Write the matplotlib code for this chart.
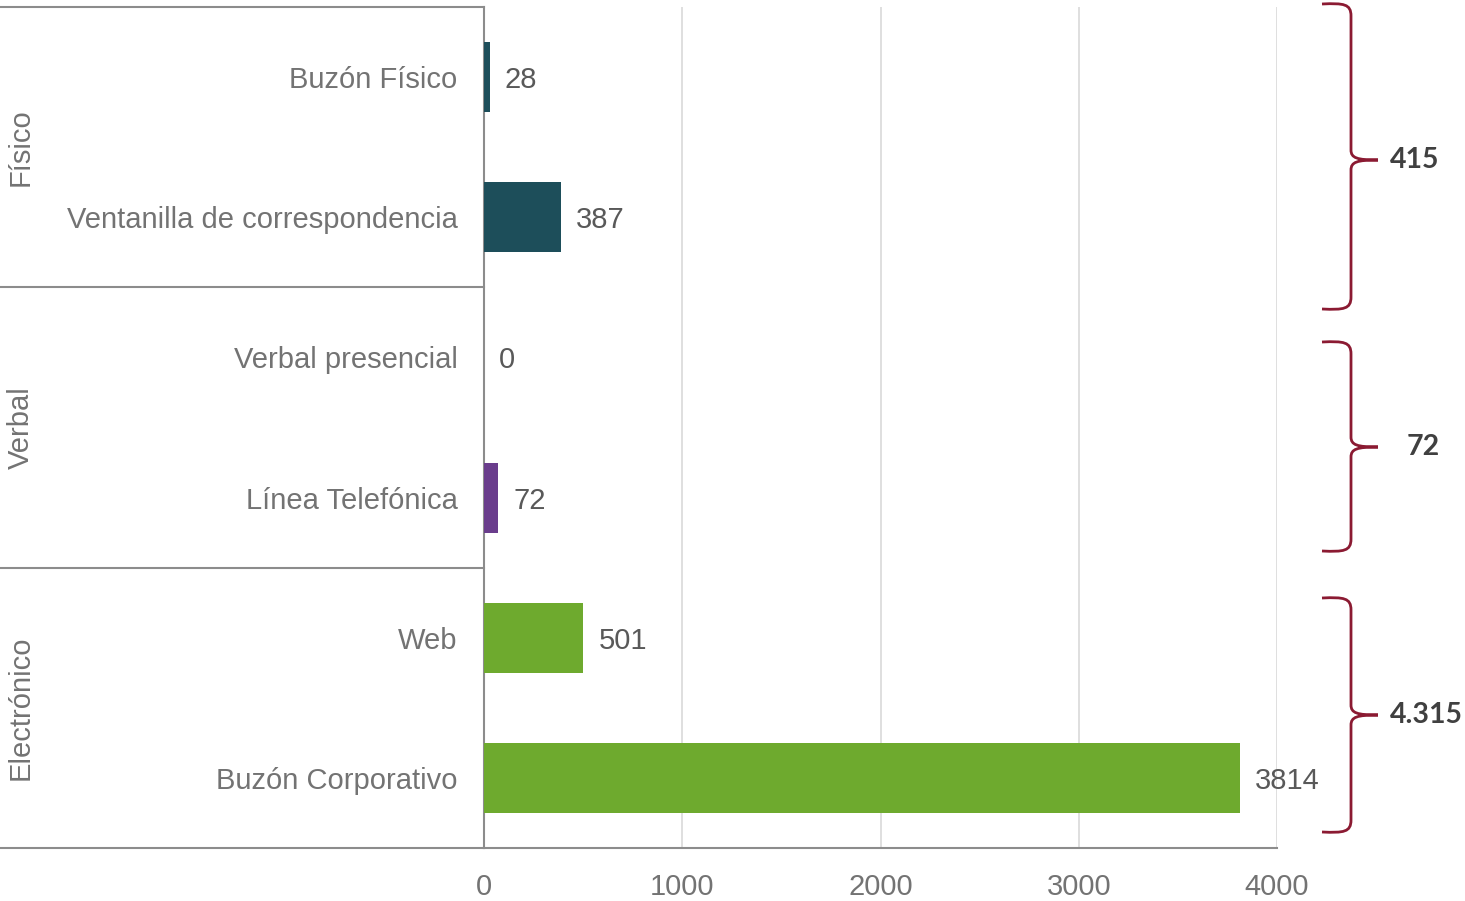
import matplotlib.pyplot as plt
from matplotlib.path import Path
from matplotlib.patches import PathPatch
from matplotlib.lines import Line2D
import numpy as np

# ------------------------------------------------------------------------
# datos
canales = ['Buzón Físico', 'Ventanilla de correspondencia', 'Verbal presencial',
           'Línea Telefónica', 'Web', 'Buzón Corporativo']
valores = [28, 387, 0, 72, 501, 3814]
grupos = ['Físico', 'Verbal', 'Electrónico']
totales = ['415', '72', '4.315']
colores_grupo = ['#1d4e5a', '#6a3d8c', '#6eaa2e']
colores = [colores_grupo[i // 2] for i in range(len(canales))]
x_ticks = [0, 1000, 2000, 3000, 4000]

W, H = 1465, 901
GRIS = '#737373'
plt.rcParams['font.family'] = ['Liberation Sans', 'DejaVu Sans']

fig = plt.figure(figsize=(W / 100, H / 100), dpi=100)
ax = fig.add_axes([484 / W, 1 - 848 / H, (1277 - 484) / W, (848 - 7) / H])

y = np.arange(len(canales))
ax.barh(y, valores, height=0.5, color=colores, zorder=3)
ax.set_ylim(len(canales) - 0.5, -0.5)
ax.set_xlim(0, 4000)

for yi, v in zip(y, valores):
    ax.text(v + 4000 * 15 / 793, yi, str(v), va='center_baseline', ha='left',
            fontsize=21, color='#595959')

ax.set_yticks(y)
ax.set_yticklabels(canales, fontsize=21, color=GRIS)
ax.set_xticks(x_ticks)
ax.set_xticklabels([str(t) for t in x_ticks], fontsize=21, color=GRIS)
ax.tick_params(axis='y', length=0, pad=19)
ax.tick_params(axis='x', length=0, pad=18)
ax.grid(axis='x', color='#d9d9d9', linewidth=1.2, zorder=0)

for s in ['top', 'right']:
    ax.spines[s].set_visible(False)
ax.spines['left'].set_color('#8c8c8c')
ax.spines['left'].set_linewidth(1.5)
ax.spines['bottom'].set_color('#8c8c8c')
ax.spines['bottom'].set_linewidth(1.5)

# separadores de grupo y etiquetas de grupo
x_izq = -484 / 793
for k in range(len(grupos) + 1):
    yb = -0.5 + 2 * k
    ax.add_line(Line2D([x_izq, 0], [yb, yb], transform=ax.get_yaxis_transform(),
                       color='#8c8c8c', linewidth=1.5, clip_on=False))
for k, g in enumerate(grupos):
    ax.text(-463 / 793, 2 * k + 0.5, g, transform=ax.get_yaxis_transform(),
            rotation=90, va='center', ha='center', fontsize=21, color=GRIS)

# llaves con totales
ov = fig.add_axes([0, 0, 1, 1], facecolor='none')
ov.set_xlim(0, W)
ov.set_ylim(H, 0)
ov.axis('off')


def llave(y_top, y_mid, y_bot, x0=1322, xl=1351, xt=1378):
    verts = [(x0, y_top), (x0 + 22, y_top - 1), (xl, y_top), (xl, y_top + 12),
             (xl, y_mid - 10),
             (xl, y_mid - 2), (xl + 6, y_mid), (xt, y_mid),
             (xt, y_mid), (xl + 6, y_mid), (xl, y_mid + 2), (xl, y_mid + 10),
             (xl, y_bot - 12),
             (xl, y_bot), (x0 + 22, y_bot + 1), (x0, y_bot)]
    codes = [Path.MOVETO, Path.CURVE4, Path.CURVE4, Path.CURVE4,
             Path.LINETO,
             Path.CURVE4, Path.CURVE4, Path.CURVE4,
             Path.MOVETO, Path.CURVE4, Path.CURVE4, Path.CURVE4,
             Path.LINETO,
             Path.CURVE4, Path.CURVE4, Path.CURVE4]
    ov.add_patch(PathPatch(Path(verts, codes), facecolor='none',
                           edgecolor='#8b1a32', linewidth=2))


llaves = [(4, 160, 309), (342, 447, 551), (598, 715, 832)]
x_tot = [1390, 1407, 1390]
for (a, m, b), t, xt in zip(llaves, totales, x_tot):
    llave(a, m, b)
    ov.text(xt, m, t, ha='left', va='center', fontsize=20.5, fontweight='bold',
            color='#404040', family=['Lato', 'DejaVu Sans'])

fig.savefig('out.png', dpi=100)
